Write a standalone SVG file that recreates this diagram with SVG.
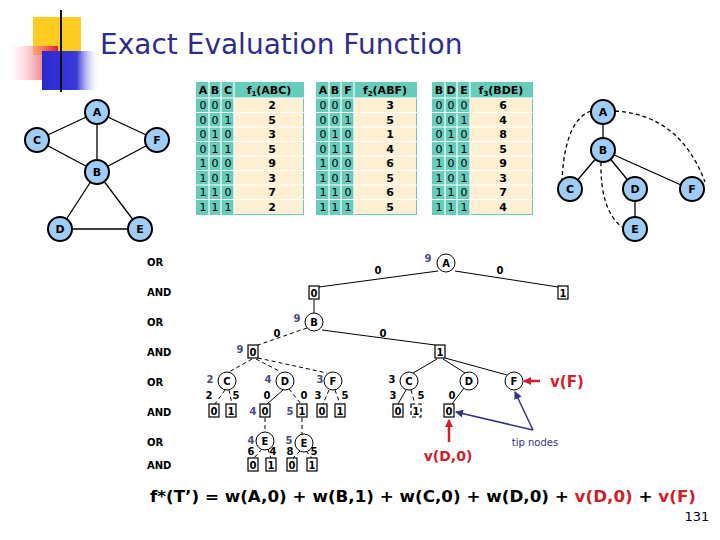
<svg xmlns="http://www.w3.org/2000/svg" width="720" height="540" viewBox="0 0 720 540">
<defs>
<linearGradient id="gr" x1="0" x2="1"><stop offset="0" stop-color="#fff" stop-opacity="0.3"/><stop offset="1" stop-color="#e8182a"/></linearGradient>
<linearGradient id="gb" x1="0" x2="1"><stop offset="0" stop-color="#2a2ad0"/><stop offset="0.6" stop-color="#3a3ad8"/><stop offset="1" stop-color="#fff" stop-opacity="0"/></linearGradient>
<linearGradient id="gl" x1="0" x2="1"><stop offset="0" stop-color="#222"/><stop offset="1" stop-color="#ccc"/></linearGradient>
<marker id="mr" markerWidth="8" markerHeight="8" refX="7" refY="4" orient="auto" markerUnits="userSpaceOnUse"><path d="M0,0L8,4L0,8z" fill="#d0202a"/></marker>
<marker id="mb" markerWidth="8" markerHeight="8" refX="7" refY="4" orient="auto" markerUnits="userSpaceOnUse"><path d="M0,0L8,4L0,8z" fill="#33338a"/></marker>
</defs>
<style>
text{font-family:"DejaVu Sans",Verdana,sans-serif}
.gn circle{fill:#9fcdf5;stroke:#000;stroke-width:2}
.gn text,.b{font-size:11px;font-weight:bold;text-anchor:middle}
.ed line,.ed path{stroke:#000;stroke-width:1.3;fill:none}
.ds{stroke-dasharray:4,3}
.tt{font-size:11px;text-anchor:middle;fill:#000}
.th{font-size:11px;font-weight:bold;text-anchor:middle}
.lv{font-size:10px;font-weight:bold;fill:#000}
.on circle{fill:#fff;stroke:#000;stroke-width:1}
.bx rect{fill:#fff;stroke:#000;stroke-width:1.2}
.n{font-size:10px;font-weight:bold;fill:#000;text-anchor:middle}
.q{font-size:10px;font-weight:bold;fill:#4a4a7c;text-anchor:middle}
.t{stroke:#000;stroke-width:1;fill:none}
</style>
<g id="logo">
<rect x="33" y="17" width="48" height="38" fill="#ffcc22"/>
<rect x="10" y="46" width="48" height="34" fill="url(#gr)"/>
<rect x="42" y="51" width="58" height="39" fill="url(#gb)"/>
<line x1="61" y1="10" x2="61" y2="92" stroke="#111" stroke-width="2"/>
<line x1="35" y1="73" x2="720" y2="73" stroke="url(#gl)" stroke-width="2"/>
</g>
<text x="100" y="54" font-family="Liberation Sans,Arial,sans-serif" font-size="28" fill="#2e2e8a">Exact Evaluation Function</text>

<g id="graph1">
<g class="ed"><line x1="97" y1="112" x2="37" y2="140"/><line x1="97" y1="112" x2="157" y2="140"/><line x1="97" y1="112" x2="97" y2="172"/><line x1="37" y1="140" x2="97" y2="172"/><line x1="157" y1="140" x2="97" y2="172"/><line x1="97" y1="172" x2="60" y2="229"/><line x1="97" y1="172" x2="140" y2="229"/><line x1="60" y1="229" x2="140" y2="229"/></g>
<g class="gn" id="g1A"><circle cx="97" cy="112" r="12"/><text x="97" y="116">A</text></g>
<g class="gn" id="g1C"><circle cx="37" cy="140" r="12"/><text x="37" y="144">C</text></g>
<g class="gn" id="g1F"><circle cx="157" cy="140" r="12"/><text x="157" y="144">F</text></g>
<g class="gn" id="g1B"><circle cx="97" cy="172" r="12"/><text x="97" y="176">B</text></g>
<g class="gn" id="g1D"><circle cx="60" cy="229" r="12"/><text x="60" y="233">D</text></g>
<g class="gn" id="g1E"><circle cx="140" cy="229" r="12"/><text x="140" y="233">E</text></g>
</g>

<g id="graph2">
<g class="ed"><line x1="603" y1="112" x2="603" y2="150"/><line x1="603" y1="150" x2="570" y2="189"/><line x1="603" y1="150" x2="635" y2="189"/><line x1="603" y1="150" x2="690" y2="189"/><line x1="635" y1="189" x2="635" y2="229"/>
<path class="ds" d="M591,111 Q565,120 562,180"/><path class="ds" d="M615,111 Q680,115 705,182"/><path class="ds" d="M601,162 Q600,210 622,227"/></g>
<g class="gn" id="g2A"><circle cx="603" cy="112" r="12"/><text x="603" y="116">A</text></g>
<g class="gn" id="g2B"><circle cx="603" cy="150" r="12"/><text x="603" y="154">B</text></g>
<g class="gn" id="g2C"><circle cx="570" cy="189" r="12"/><text x="570" y="193">C</text></g>
<g class="gn" id="g2D"><circle cx="635" cy="189" r="12"/><text x="635" y="193">D</text></g>
<g class="gn" id="g2F"><circle cx="692" cy="189" r="12"/><text x="692" y="193">F</text></g>
<g class="gn" id="g2E"><circle cx="635" cy="229" r="12"/><text x="635" y="233">E</text></g>
</g>

<g id="table1">
<rect x="196" y="82" width="108" height="133" fill="#66ccbb"/>
<rect x="234" y="98" width="69" height="116" fill="#fff0d4"/>
<g stroke="#fff" stroke-width="1.2"><line x1="209" y1="82" x2="209" y2="215"/><line x1="221" y1="82" x2="221" y2="215"/><line x1="234" y1="82" x2="234" y2="215"/>
<line x1="196" y1="98" x2="304" y2="98"/><line x1="196" y1="112.5" x2="304" y2="112.5"/><line x1="196" y1="127" x2="304" y2="127"/><line x1="196" y1="141.5" x2="304" y2="141.5"/><line x1="196" y1="156" x2="304" y2="156"/><line x1="196" y1="170.5" x2="304" y2="170.5"/><line x1="196" y1="185" x2="304" y2="185"/><line x1="196" y1="199.5" x2="304" y2="199.5"/></g>
<text class="th" y="94"><tspan x="203">A</tspan><tspan x="215">B</tspan><tspan x="228">C</tspan></text><text class="th" x="269" y="94">f<tspan font-size="7" dy="2">1</tspan><tspan dy="-2">(ABC)</tspan></text>
<text class="tt" x="203" y="109"><tspan x="203" dy="0">0</tspan><tspan x="203" dy="14.5">0</tspan><tspan x="203" dy="14.5">0</tspan><tspan x="203" dy="14.5">0</tspan><tspan x="203" dy="14.5">1</tspan><tspan x="203" dy="14.5">1</tspan><tspan x="203" dy="14.5">1</tspan><tspan x="203" dy="14.5">1</tspan></text>
<text class="tt" x="215" y="109"><tspan x="215" dy="0">0</tspan><tspan x="215" dy="14.5">0</tspan><tspan x="215" dy="14.5">1</tspan><tspan x="215" dy="14.5">1</tspan><tspan x="215" dy="14.5">0</tspan><tspan x="215" dy="14.5">0</tspan><tspan x="215" dy="14.5">1</tspan><tspan x="215" dy="14.5">1</tspan></text>
<text class="tt" x="228" y="109"><tspan x="228" dy="0">0</tspan><tspan x="228" dy="14.5">1</tspan><tspan x="228" dy="14.5">0</tspan><tspan x="228" dy="14.5">1</tspan><tspan x="228" dy="14.5">0</tspan><tspan x="228" dy="14.5">1</tspan><tspan x="228" dy="14.5">0</tspan><tspan x="228" dy="14.5">1</tspan></text>
<text class="th" x="272" y="109"><tspan x="272" dy="0">2</tspan><tspan x="272" dy="14.5">5</tspan><tspan x="272" dy="14.5">3</tspan><tspan x="272" dy="14.5">5</tspan><tspan x="272" dy="14.5">9</tspan><tspan x="272" dy="14.5">3</tspan><tspan x="272" dy="14.5">7</tspan><tspan x="272" dy="14.5">2</tspan></text>
</g>

<g id="table2">
<rect x="316" y="82" width="101" height="133" fill="#66ccbb"/>
<rect x="354" y="98" width="62" height="116" fill="#fff0d4"/>
<g stroke="#fff" stroke-width="1.2"><line x1="329" y1="82" x2="329" y2="215"/><line x1="341" y1="82" x2="341" y2="215"/><line x1="354" y1="82" x2="354" y2="215"/>
<line x1="316" y1="98" x2="417" y2="98"/><line x1="316" y1="112.5" x2="417" y2="112.5"/><line x1="316" y1="127" x2="417" y2="127"/><line x1="316" y1="141.5" x2="417" y2="141.5"/><line x1="316" y1="156" x2="417" y2="156"/><line x1="316" y1="170.5" x2="417" y2="170.5"/><line x1="316" y1="185" x2="417" y2="185"/><line x1="316" y1="199.5" x2="417" y2="199.5"/></g>
<text class="th" y="94"><tspan x="323">A</tspan><tspan x="335">B</tspan><tspan x="348">F</tspan></text><text class="th" x="385" y="94">f<tspan font-size="7" dy="2">2</tspan><tspan dy="-2">(ABF)</tspan></text>
<text class="tt" x="323" y="109"><tspan x="323" dy="0">0</tspan><tspan x="323" dy="14.5">0</tspan><tspan x="323" dy="14.5">0</tspan><tspan x="323" dy="14.5">0</tspan><tspan x="323" dy="14.5">1</tspan><tspan x="323" dy="14.5">1</tspan><tspan x="323" dy="14.5">1</tspan><tspan x="323" dy="14.5">1</tspan></text>
<text class="tt" x="335" y="109"><tspan x="335" dy="0">0</tspan><tspan x="335" dy="14.5">0</tspan><tspan x="335" dy="14.5">1</tspan><tspan x="335" dy="14.5">1</tspan><tspan x="335" dy="14.5">0</tspan><tspan x="335" dy="14.5">0</tspan><tspan x="335" dy="14.5">1</tspan><tspan x="335" dy="14.5">1</tspan></text>
<text class="tt" x="348" y="109"><tspan x="348" dy="0">0</tspan><tspan x="348" dy="14.5">1</tspan><tspan x="348" dy="14.5">0</tspan><tspan x="348" dy="14.5">1</tspan><tspan x="348" dy="14.5">0</tspan><tspan x="348" dy="14.5">1</tspan><tspan x="348" dy="14.5">0</tspan><tspan x="348" dy="14.5">1</tspan></text>
<text class="th" x="390" y="109"><tspan x="390" dy="0">3</tspan><tspan x="390" dy="14.5">5</tspan><tspan x="390" dy="14.5">1</tspan><tspan x="390" dy="14.5">4</tspan><tspan x="390" dy="14.5">6</tspan><tspan x="390" dy="14.5">5</tspan><tspan x="390" dy="14.5">6</tspan><tspan x="390" dy="14.5">5</tspan></text>
</g>

<g id="table3">
<rect x="432" y="82" width="101" height="133" fill="#66ccbb"/>
<rect x="470" y="98" width="62" height="116" fill="#fff0d4"/>
<g stroke="#fff" stroke-width="1.2"><line x1="445" y1="82" x2="445" y2="215"/><line x1="457" y1="82" x2="457" y2="215"/><line x1="470" y1="82" x2="470" y2="215"/>
<line x1="432" y1="98" x2="533" y2="98"/><line x1="432" y1="112.5" x2="533" y2="112.5"/><line x1="432" y1="127" x2="533" y2="127"/><line x1="432" y1="141.5" x2="533" y2="141.5"/><line x1="432" y1="156" x2="533" y2="156"/><line x1="432" y1="170.5" x2="533" y2="170.5"/><line x1="432" y1="185" x2="533" y2="185"/><line x1="432" y1="199.5" x2="533" y2="199.5"/></g>
<text class="th" y="94"><tspan x="439">B</tspan><tspan x="451">D</tspan><tspan x="464">E</tspan></text><text class="th" x="501" y="94">f<tspan font-size="7" dy="2">3</tspan><tspan dy="-2">(BDE)</tspan></text>
<text class="tt" x="439" y="109"><tspan x="439" dy="0">0</tspan><tspan x="439" dy="14.5">0</tspan><tspan x="439" dy="14.5">0</tspan><tspan x="439" dy="14.5">0</tspan><tspan x="439" dy="14.5">1</tspan><tspan x="439" dy="14.5">1</tspan><tspan x="439" dy="14.5">1</tspan><tspan x="439" dy="14.5">1</tspan></text>
<text class="tt" x="451" y="109"><tspan x="451" dy="0">0</tspan><tspan x="451" dy="14.5">0</tspan><tspan x="451" dy="14.5">1</tspan><tspan x="451" dy="14.5">1</tspan><tspan x="451" dy="14.5">0</tspan><tspan x="451" dy="14.5">0</tspan><tspan x="451" dy="14.5">1</tspan><tspan x="451" dy="14.5">1</tspan></text>
<text class="tt" x="464" y="109"><tspan x="464" dy="0">0</tspan><tspan x="464" dy="14.5">1</tspan><tspan x="464" dy="14.5">0</tspan><tspan x="464" dy="14.5">1</tspan><tspan x="464" dy="14.5">0</tspan><tspan x="464" dy="14.5">1</tspan><tspan x="464" dy="14.5">0</tspan><tspan x="464" dy="14.5">1</tspan></text>
<text class="th" x="503" y="109"><tspan x="503" dy="0">6</tspan><tspan x="503" dy="14.5">4</tspan><tspan x="503" dy="14.5">8</tspan><tspan x="503" dy="14.5">5</tspan><tspan x="503" dy="14.5">9</tspan><tspan x="503" dy="14.5">3</tspan><tspan x="503" dy="14.5">7</tspan><tspan x="503" dy="14.5">4</tspan></text>
</g>

<g id="levels" class="lv">
<text x="147" y="266">OR</text><text x="147" y="296">AND</text><text x="147" y="326">OR</text><text x="147" y="356">AND</text><text x="147" y="386">OR</text><text x="147" y="416">AND</text><text x="147" y="446">OR</text><text x="147" y="469">AND</text>
</g>

<g id="connectors">
<g class="t">
<line x1="438" y1="271" x2="319" y2="287"/><line x1="455" y1="271" x2="558" y2="287"/>
<line x1="314" y1="300" x2="314" y2="313"/>
<line class="ds" x1="307" y1="328" x2="258" y2="345"/><line x1="322" y1="330" x2="435" y2="345"/>
<line class="ds" x1="252" y1="359" x2="229" y2="372"/><line class="ds" x1="256" y1="359" x2="281" y2="372"/><line class="ds" x1="258" y1="358" x2="327" y2="373"/>
<line class="ds" x1="225" y1="390" x2="215" y2="404"/><line class="ds" x1="229" y1="390" x2="232" y2="404"/>
<line x1="283" y1="390" x2="267" y2="404"/><line class="ds" x1="289" y1="389" x2="301" y2="404"/>
<line class="ds" x1="329" y1="390" x2="323" y2="404"/><line class="ds" x1="335" y1="390" x2="340" y2="404"/>
<line class="ds" x1="265" y1="418" x2="265" y2="432"/><line class="ds" x1="302" y1="418" x2="302" y2="434"/>
<line class="ds" x1="262" y1="449" x2="254" y2="458"/><line class="ds" x1="268" y1="449" x2="271" y2="458"/>
<line class="ds" x1="300" y1="451" x2="293" y2="458"/><line class="ds" x1="306" y1="451" x2="312" y2="458"/>
<line x1="437" y1="359" x2="413" y2="373"/><line x1="443" y1="359" x2="465" y2="373"/><line x1="445" y1="358" x2="507" y2="375"/>
<line x1="406" y1="390" x2="398" y2="404"/><line class="ds" x1="411" y1="390" x2="415" y2="404"/>
<line x1="464" y1="388" x2="452" y2="404"/>
</g>
<line x1="540" y1="381" x2="524" y2="381" stroke="#d0202a" stroke-width="2.5" marker-end="url(#mr)"/>
<line x1="449" y1="442" x2="449" y2="420" stroke="#d0202a" stroke-width="2.5" marker-end="url(#mr)"/>
<line x1="533" y1="430" x2="456" y2="412" stroke="#33338a" stroke-width="1.5" marker-end="url(#mb)"/>
<line x1="533" y1="430" x2="515" y2="392" stroke="#33338a" stroke-width="1.5" marker-end="url(#mb)"/>
</g>

<g id="ortree">
<g class="on" id="oA"><circle cx="446" cy="263" r="9"/><text class="n" x="446" y="267">A</text></g>
<g class="on" id="oB"><circle cx="314" cy="322" r="9"/><text class="n" x="314" y="326">B</text></g>
<g class="on" id="oC1"><circle cx="227" cy="381" r="9"/><text class="n" x="227" y="385">C</text></g>
<g class="on" id="oD1"><circle cx="285" cy="381" r="9"/><text class="n" x="285" y="385">D</text></g>
<g class="on" id="oF1"><circle cx="333" cy="381" r="9"/><text class="n" x="333" y="385">F</text></g>
<g class="on" id="oE1"><circle cx="265" cy="441" r="9"/><text class="n" x="265" y="445">E</text></g>
<g class="on" id="oE2"><circle cx="304" cy="443" r="9"/><text class="n" x="304" y="447">E</text></g>
<g class="on" id="oC2"><circle cx="409" cy="381" r="9"/><text class="n" x="409" y="385">C</text></g>
<g class="on" id="oD2"><circle cx="469" cy="381" r="9"/><text class="n" x="469" y="385">D</text></g>
<g class="on" id="oF2"><circle cx="514" cy="381" r="9"/><text class="n" x="514" y="385">F</text></g>
</g>

<g id="andboxes" class="bx">
<g><rect x="309" y="286" width="10" height="13"/><text class="n" x="314" y="297">0</text></g>
<g><rect x="558" y="286" width="10" height="13"/><text class="n" x="563" y="297">1</text></g>
<g><rect x="248" y="345" width="10" height="13"/><text class="n" x="253" y="356">0</text></g>
<g><rect x="435" y="345" width="10" height="13"/><text class="n" x="440" y="356">1</text></g>
<g><rect x="209" y="404" width="10" height="13"/><text class="n" x="214" y="415">0</text></g>
<g><rect x="226" y="404" width="10" height="13"/><text class="n" x="231" y="415">1</text></g>
<g><rect x="260" y="404" width="10" height="13"/><text class="n" x="265" y="415">0</text></g>
<g><rect x="297" y="404" width="10" height="13"/><text class="n" x="302" y="415">1</text></g>
<g><rect x="317" y="404" width="10" height="13"/><text class="n" x="322" y="415">0</text></g>
<g><rect x="335" y="404" width="10" height="13"/><text class="n" x="340" y="415">1</text></g>
<g><rect x="248" y="458" width="10" height="13"/><text class="n" x="253" y="469">0</text></g>
<g><rect x="266" y="458" width="10" height="13"/><text class="n" x="271" y="469">1</text></g>
<g><rect x="287" y="458" width="10" height="13"/><text class="n" x="292" y="469">0</text></g>
<g><rect x="307" y="458" width="10" height="13"/><text class="n" x="312" y="469">1</text></g>
<g><rect x="393" y="404" width="10" height="13"/><text class="n" x="398" y="415">0</text></g>
<g><rect x="411" y="404" width="10" height="13" class="ds"/><text class="n" x="416" y="415">1</text></g>
<g><rect x="444" y="404" width="10" height="13"/><text class="n" x="449" y="415">0</text></g>
</g>

<g id="labels">
<text class="q" x="428" y="262">9</text><text class="q" x="297" y="322">9</text><text class="q" x="240" y="353">9</text>
<text class="q" x="210" y="383">2</text><text class="q" x="268" y="383">4</text><text class="q" x="320" y="383">3</text>
<text class="q" x="253" y="415">4</text><text class="q" x="290" y="415">5</text>
<text class="q" x="251" y="444">4</text><text class="q" x="289" y="444">5</text>
<text class="n" x="378" y="274">0</text><text class="n" x="500" y="274">0</text>
<text class="n" x="277" y="337">0</text><text class="n" x="383" y="337">0</text>
<text class="n" x="209" y="399">2</text><text class="n" x="236" y="399">5</text>
<text class="n" x="267" y="399">0</text><text class="n" x="304" y="399">0</text>
<text class="n" x="318" y="399">3</text><text class="n" x="345" y="399">5</text>
<text class="n" x="251" y="455">6</text><text class="n" x="273" y="455">4</text>
<text class="n" x="290" y="455">8</text><text class="n" x="314" y="455">5</text>
<text class="n" x="392" y="383">3</text><text class="n" x="393" y="399">3</text><text class="n" x="421" y="399">5</text><text class="n" x="452" y="399">0</text>
<text x="550" y="387" font-size="15" font-weight="bold" fill="#d0202a">v(F)</text>
<text x="448" y="461" font-size="14" font-weight="bold" fill="#d0202a" text-anchor="middle">v(D,0)</text>
<text x="535" y="446" font-size="10" fill="#33338a" text-anchor="middle" font-family="Liberation Sans,Arial,sans-serif">tip nodes</text>
</g>

<text x="150" y="502" font-size="16" font-weight="bold" textLength="546" lengthAdjust="spacingAndGlyphs" font-family="Liberation Sans,Arial,sans-serif">f*(T’) = w(A,0) + w(B,1) + w(C,0) + w(D,0) + <tspan fill="#d0202a">v(D,0)</tspan> + <tspan fill="#d0202a">v(F)</tspan></text>
<text x="697" y="521" font-size="13" text-anchor="middle" font-family="Liberation Sans,Arial,sans-serif">131</text>
</svg>
